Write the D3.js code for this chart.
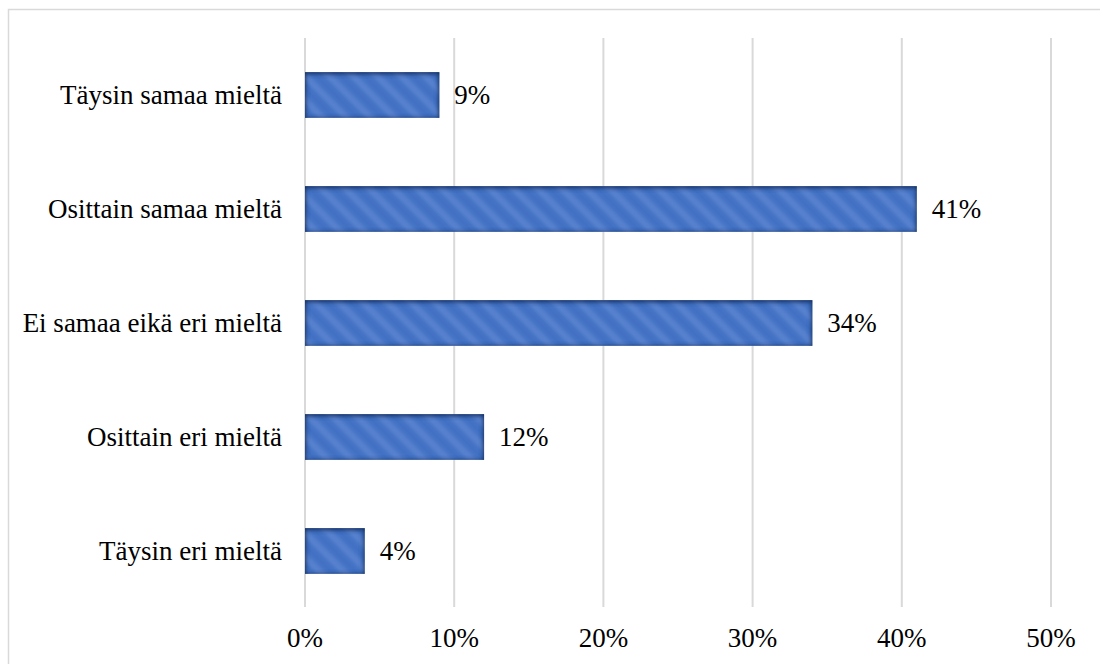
<!DOCTYPE html>
<html>
<head>
<meta charset="utf-8">
<script src="https://cdn.jsdelivr.net/npm/d3@7"></script>
<style>
  body { margin: 0; background: #fff; }
  svg { display: block; }
</style>
</head>
<body>
<div id="myPlot"></div>
<script>
// Dimensions
const width = 1100;
const height = 664;
const font = "'Liberation Serif', 'Times New Roman', serif";

// Data
const categories = [
  "Täysin samaa mieltä",
  "Osittain samaa mieltä",
  "Ei samaa eikä eri mieltä",
  "Osittain eri mieltä",
  "Täysin eri mieltä"
];
const values = [9, 41, 34, 12, 4];
const ticks = [0, 10, 20, 30, 40, 50];

const data = categories.map((c, i) => [c, values[i]]);

const svg = d3.select("#myPlot")
  .append("svg")
  .attr("width", width)
  .attr("height", height);

// defs: soft stripe pattern + inner shadow
const defs = svg.append("defs");
const grad = defs.append("linearGradient")
  .attr("id", "stripeGrad")
  .attr("x1", 0).attr("x2", 1).attr("y1", 0).attr("y2", 0);
grad.append("stop").attr("offset", "0%").attr("stop-color", "#4370c2");
grad.append("stop").attr("offset", "20%").attr("stop-color", "#4573c5");
grad.append("stop").attr("offset", "45%").attr("stop-color", "#5781cd");
grad.append("stop").attr("offset", "60%").attr("stop-color", "#5680cd");
grad.append("stop").attr("offset", "85%").attr("stop-color", "#4573c5");
grad.append("stop").attr("offset", "100%").attr("stop-color", "#4370c2");

const pat = defs.append("pattern")
  .attr("id", "stripes")
  .attr("patternUnits", "userSpaceOnUse")
  .attr("width", 17)
  .attr("height", 17)
  .attr("patternTransform", "rotate(-45)");
pat.append("rect")
  .attr("width", 17).attr("height", 17)
  .attr("fill", "url(#stripeGrad)");

const filt = defs.append("filter").attr("id", "inner");
filt.append("feFlood").attr("flood-color", "#16305e").attr("result", "flood");
filt.append("feComposite").attr("in", "flood").attr("in2", "SourceAlpha").attr("operator", "out").attr("result", "outside");
filt.append("feGaussianBlur").attr("in", "outside").attr("stdDeviation", 2.5).attr("result", "blur");
filt.append("feOffset").attr("in", "blur").attr("dy", 1.2).attr("result", "off");
filt.append("feComposite").attr("in", "off").attr("in2", "SourceAlpha").attr("operator", "in").attr("result", "shadow");
const merge = filt.append("feMerge");
merge.append("feMergeNode").attr("in", "SourceGraphic");
merge.append("feMergeNode").attr("in", "shadow");
merge.append("feMergeNode").attr("in", "shadow");

// chart border
svg.append("rect")
  .attr("x", 8.5).attr("y", 9.5)
  .attr("width", 1200).attr("height", 800)
  .attr("fill", "none")
  .attr("stroke", "#d9d9d9")
  .attr("stroke-width", 1.5);

// scales
const x = d3.scaleLinear()
  .domain([0, 50])
  .range([305, 1051]);

const y = d3.scaleBand()
  .domain(categories)
  .range([38, 608])
  .paddingInner(0.6)
  .paddingOuter(0.3);

// gridlines
svg.append("g")
  .selectAll("line")
  .data(ticks)
  .join("line")
  .attr("x1", d => x(d))
  .attr("x2", d => x(d))
  .attr("y1", 38)
  .attr("y2", 607)
  .attr("stroke", "#d9d9d9")
  .attr("stroke-width", 2);

// x axis tick labels
svg.append("g")
  .selectAll("text")
  .data(ticks)
  .join("text")
  .attr("x", d => x(d))
  .attr("y", 647)
  .attr("text-anchor", "middle")
  .style("font-family", font)
  .style("font-size", "27px")
  .attr("fill", "#000")
  .text(d => d + "%");

// category labels
svg.append("g")
  .selectAll("text")
  .data(categories)
  .join("text")
  .attr("x", 282)
  .attr("y", d => y(d) + y.bandwidth() / 2)
  .attr("dy", "0.33em")
  .attr("text-anchor", "end")
  .style("font-family", font)
  .style("font-size", "27px")
  .attr("fill", "#000")
  .text(d => d);

// bars
svg.append("g")
  .selectAll(".bar")
  .data(data)
  .join("rect")
  .attr("class", "bar")
  .attr("x", x(0))
  .attr("y", d => y(d[0]))
  .attr("width", d => x(d[1]) - x(0))
  .attr("height", y.bandwidth())
  .attr("fill", "url(#stripes)")
  .attr("filter", "url(#inner)");

// value labels
svg.append("g")
  .selectAll("text")
  .data(data)
  .join("text")
  .attr("x", d => x(d[1]) + 15)
  .attr("y", d => y(d[0]) + y.bandwidth() / 2)
  .attr("dy", "0.33em")
  .style("font-family", font)
  .style("font-size", "27px")
  .attr("fill", "#000")
  .text(d => d[1] + "%");
</script>
</body>
</html>
